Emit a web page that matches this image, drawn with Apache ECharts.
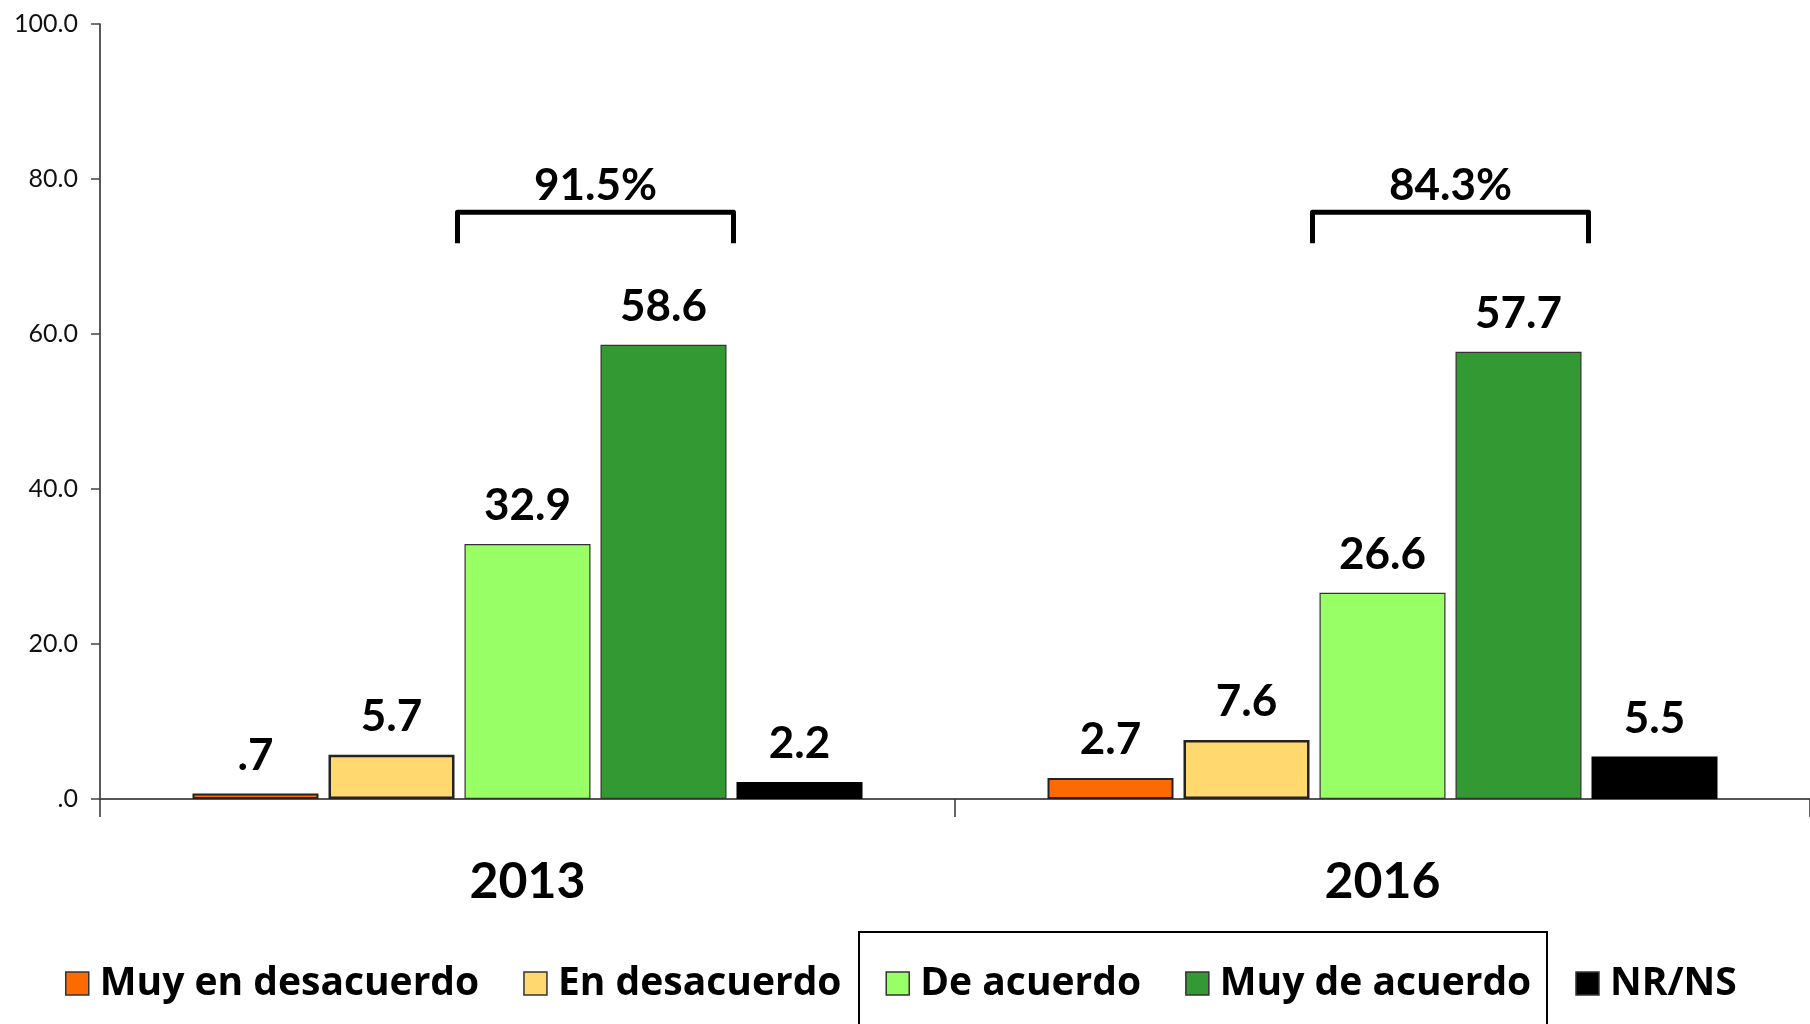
<!DOCTYPE html>
<html>
<head>
<meta charset="utf-8">
<style>
  html, body { margin: 0; padding: 0; background: #fff; }
  #main { width: 1810px; height: 1024px; }
</style>
<script src="https://cdn.jsdelivr.net/npm/echarts@6/dist/echarts.min.js"></script>
</head>
<body>
<div id="main"></div>
<script>
// datos
var years = ['2013', '2016'];
var seriesNames = ['Muy en desacuerdo', 'En desacuerdo', 'De acuerdo', 'Muy de acuerdo', 'NR/NS'];
var muyDesacuerdo = [0.7, 2.7];
var enDesacuerdo = [5.7, 7.6];
var deAcuerdo = [32.9, 26.6];
var muyDeAcuerdo = [58.6, 57.7];
var nrns = [2.2, 5.5];
var yTicks = [0, 20, 40, 60, 80, 100];

var colors = ['#FF6A00', '#FFD86F', '#99FF66', '#339933', '#000000'];
var borders = [
	{ color: '#222', width: 2 },
	{ color: '#222', width: 2.5 },
	{ color: '#333', width: 1.2 },
	{ color: '#333', width: 1.2 },
	{ color: '#000', width: 0 }
];
var values = [muyDesacuerdo, enDesacuerdo, deAcuerdo, muyDeAcuerdo, nrns];

// total de acuerdo (De acuerdo + Muy de acuerdo)
var totals = years.map(function (y, i) {
	return [i, Math.round((deAcuerdo[i] + muyDeAcuerdo[i]) * 10) / 10];
});

var BAR_W = 126;
var BAR_GAP = 10;
var bracketLevel = 75.7;

function noLeadZero(v) {
	return Number(v).toFixed(1).replace(/^0/, '');
}

var chart = echarts.init(document.getElementById('main'));

var series = seriesNames.map(function (name, k) {
	return {
		name: name,
		type: 'bar',
		barWidth: BAR_W,
		barGap: (BAR_GAP / BAR_W * 100) + '%',
		data: values[k],
		itemStyle: {
			color: colors[k],
			borderColor: borders[k].color,
			borderWidth: borders[k].width
		},
		label: {
			show: true,
			position: 'top',
			distance: 16,
			color: '#000',
			fontSize: 44,
			fontWeight: 'bold',
			fontFamily: 'Lato',
			formatter: function (p) { return noLeadZero(p.value); }
		}
	};
});

series.push({
	type: 'custom',
	data: totals,
	z: 5,
	renderItem: function (params, api) {
		var c = api.coord([api.value(0), bracketLevel]);
		var x0 = c[0] - BAR_W / 2 - 7;
		var x1 = c[0] + BAR_W / 2 + BAR_GAP + BAR_W + 7;
		var y = c[1];
		var h = 31;
		return {
			type: 'group',
			children: [{
				type: 'polyline',
				shape: { points: [[x0, y + h], [x0, y], [x1, y], [x1, y + h]] },
				style: { stroke: '#000', lineWidth: 5, fill: null, lineJoin: 'round' }
			}, {
				type: 'text',
				x: (x0 + x1) / 2,
				y: y - 5,
				style: {
					text: api.value(1).toFixed(1) + '%',
					align: 'center',
					verticalAlign: 'bottom',
					fontSize: 44,
					fontWeight: 'bold',
					fontFamily: 'Lato',
					fill: '#000'
				}
			}]
		};
	}
});

var option = {
	backgroundColor: '#fff',
	animation: false,
	grid: { left: 100, width: 1718, top: 24, bottom: 225 },
	legend: {
		data: seriesNames,
		left: 60,
		top: 959,
		itemWidth: 23,
		itemHeight: 23,
		itemGap: 44,
		icon: 'rect',
		itemStyle: { borderColor: '#333', borderWidth: 1.5 },
		textStyle: {
			fontSize: 39,
			fontWeight: 'bold',
			fontFamily: 'Open Sans',
			color: '#000',
			padding: [0, 0, 0, 6]
		}
	},
	xAxis: {
		type: 'category',
		data: years,
		axisLine: { lineStyle: { color: '#555', width: 2 } },
		axisTick: { show: true, interval: 0, length: 18, lineStyle: { color: '#333', width: 1.5 } },
		axisLabel: {
			margin: 58,
			color: '#000',
			fontSize: 50,
			fontWeight: 'bold',
			fontFamily: 'Lato'
		}
	},
	yAxis: {
		type: 'value',
		min: yTicks[0],
		max: yTicks[yTicks.length - 1],
		interval: yTicks[1] - yTicks[0],
		splitLine: { show: false },
		axisLine: { show: true, lineStyle: { color: '#222', width: 1.5 } },
		axisTick: { show: true, length: 9, lineStyle: { color: '#444', width: 1.5 } },
		axisLabel: {
			margin: 22,
			color: '#111',
			fontSize: 25,
			fontFamily: 'Lato',
			formatter: noLeadZero
		}
	},
	// recuadro alrededor de "De acuerdo" y "Muy de acuerdo"
	graphic: [{
		type: 'rect',
		shape: { x: 859, y: 932, width: 688, height: 100 },
		style: { fill: null, stroke: '#000', lineWidth: 2 }
	}],
	series: series
};

chart.setOption(option);
</script>
</body>
</html>
